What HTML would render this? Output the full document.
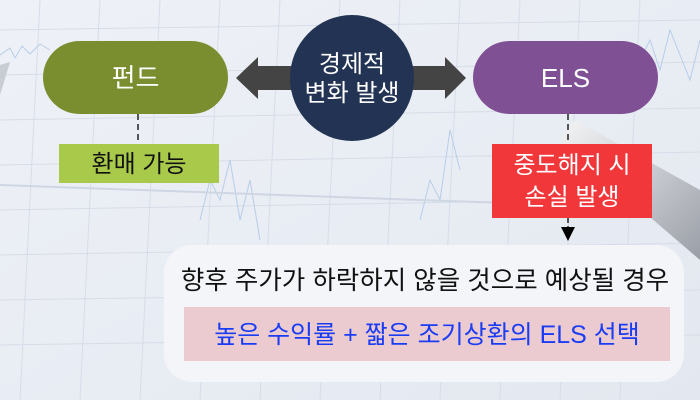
<!DOCTYPE html>
<html><head><meta charset="utf-8"><style>
html,body{margin:0;padding:0}
body{width:700px;height:400px;overflow:hidden;background:#e9edf4}
svg{display:block}
text{font-family:"Liberation Sans","Noto Sans CJK KR",sans-serif}
</style></head><body>
<svg width="700" height="400" viewBox="0 0 700 400" xmlns="http://www.w3.org/2000/svg">
<defs>
<linearGradient id="bg" x1="0" y1="0" x2="1" y2="1">
<stop offset="0" stop-color="#eef1f7"/><stop offset="1" stop-color="#e3e8f0"/>
</linearGradient>
<linearGradient id="pen" x1="0" y1="0" x2="1" y2="1">
<stop offset="0" stop-color="#f4f4f4"/><stop offset="0.5" stop-color="#c9ccd2"/><stop offset="1" stop-color="#9a9ea6"/>
</linearGradient>
</defs>
<rect width="700" height="400" fill="url(#bg)"/>
<g stroke="#d6dde9" stroke-width="1" fill="none">
<path d="M0 30 L700 20 M0 75 L700 62 M0 120 L700 108 M0 165 L700 152 M0 210 L700 198 M0 255 L700 243 M0 300 L700 290 M0 345 L700 335"/>
<path d="M40 0 L20 400 M100 0 L80 400 M160 0 L140 400 M220 0 L200 400 M280 0 L260 400 M340 0 L320 400 M400 0 L380 400 M460 0 L440 400 M520 0 L500 400 M580 0 L560 400 M640 0 L620 400"/>
</g>
<path d="M0 55 L10 48 L15 58 L22 46 L30 54 L40 44 L50 50 M200 220 L210 180 L220 200 L230 160 L240 220 L250 180 L260 240 M420 220 L430 180 L440 200 L450 130 L460 170 M640 60 L650 40 L660 70 L670 30 L690 80 L700 40" stroke="#b8cde8" stroke-width="1" fill="none"/>
<path d="M0 185 L700 210" stroke="#cfd6e3" stroke-width="2"/>
<path d="M575 120 L700 190 L700 260 L560 140 Z" fill="url(#pen)"/>
<path d="M0 65 L10 62 L0 95 Z" fill="#c8ccd3"/>

<polygon points="236,78 258,57 258,66 445,66 445,57 466,78 445,99 445,90 258,90 258,99" fill="#444444"/>
<rect x="43" y="41" width="185" height="73" rx="36.5" fill="#7a8e2f"/>
<text x="135.5" y="87" font-size="26" fill="#fff" text-anchor="middle">펀드</text>
<rect x="473" y="41" width="185" height="73" rx="36.5" fill="#7f5194"/>
<text x="565.5" y="87" font-size="26" fill="#fff" text-anchor="middle">ELS</text>
<ellipse cx="352" cy="78" rx="62" ry="63" fill="#223353"/>
<text x="352" y="72" font-size="24" fill="#fff" text-anchor="middle">경제적</text>
<text x="352" y="101" font-size="24" fill="#fff" text-anchor="middle">변화 발생</text>
<line x1="138" y1="114" x2="138" y2="144" stroke="#555" stroke-width="2" stroke-dasharray="6,4"/>
<line x1="568" y1="114" x2="568" y2="144" stroke="#555" stroke-width="2" stroke-dasharray="6,4"/>
<line x1="568" y1="218" x2="568" y2="228" stroke="#555" stroke-width="2" stroke-dasharray="5,3"/>
<polygon points="561,227 575,227 568,241" fill="#000"/>
<rect x="59" y="144" width="160" height="39" fill="#a9c94a"/>
<text x="139" y="172" font-size="24" fill="#111" text-anchor="middle">환매 가능</text>
<rect x="492" y="144" width="160" height="74" fill="#f2373b"/>
<text x="572" y="173" font-size="24" fill="#fff" text-anchor="middle">중도해지 시</text>
<text x="572" y="205" font-size="24" fill="#fff" text-anchor="middle">손실 발생</text>
<rect x="164" y="245" width="520" height="137" rx="28" fill="#f4f5f9" fill-opacity="0.95"/>
<text x="425" y="289" font-size="25.5" fill="#111" text-anchor="middle">향후 주가가 하락하지 않을 것으로 예상될 경우</text>
<rect x="184" y="307" width="486" height="54" fill="#ebcbd0"/>
<text x="427" y="343" font-size="25" fill="#1b3cf5" text-anchor="middle">높은 수익률 + 짧은 조기상환의 ELS 선택</text>
</svg>
</body></html>
